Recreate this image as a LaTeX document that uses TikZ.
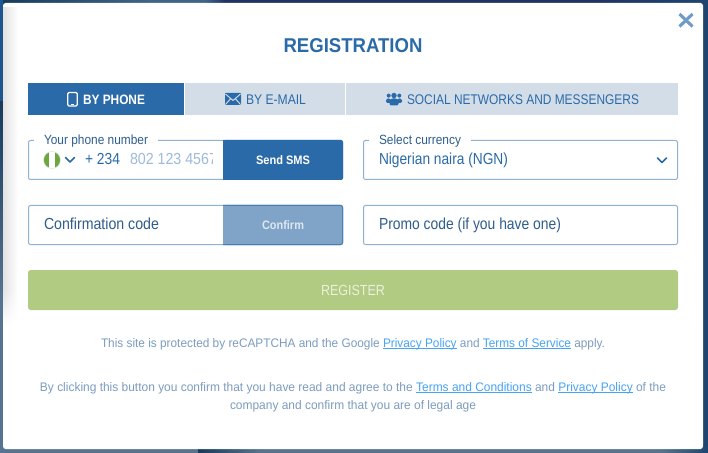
\documentclass[tikz,border=0pt]{standalone}
\usepackage{fontspec}
\usepackage{graphicx}
\setmainfont{Liberation Sans}
\usetikzlibrary{fadings}
\definecolor{bluemain}{HTML}{2A6AA8}
\definecolor{tabgrey}{HTML}{D3DDE8}
\definecolor{fieldline}{HTML}{8FB2D3}
\definecolor{inktext}{HTML}{2F5D8C}
\definecolor{placeholder}{HTML}{9DBBD9}
\definecolor{confirmbg}{HTML}{7FA4C8}
\definecolor{confirmtx}{HTML}{DCE7F1}
\definecolor{greenbtn}{HTML}{B1CB83}
\definecolor{greentx}{HTML}{EAF1DC}
\definecolor{smalltx}{HTML}{7C9CBF}
\definecolor{linktx}{HTML}{46A3F5}
\definecolor{closex}{HTML}{6F9BC6}
\definecolor{bgnavy}{HTML}{1F3463}
\definecolor{bgdark}{HTML}{173A5C}
\definecolor{bgmid}{HTML}{3F6488}
\definecolor{bgslate}{HTML}{56748F}
\definecolor{bgright}{HTML}{1E4570}
\definecolor{bgblue}{HTML}{1D568F}
\definecolor{shadowgrey}{HTML}{E2E2E2}
\definecolor{flaggreen}{HTML}{6CA63F}
\newcommand{\fs}[1]{\fontsize{#1}{#1}\selectfont}
\newsavebox{\fitbox}
\newcommand{\fitw}[2]{\sbox{\fitbox}{#2}\pgfmathsetmacro{\fitr}{(#1*0.75)/\the\wd\fitbox}\scalebox{\fitr}[1]{\usebox{\fitbox}}}
\newsavebox{\lnkbox}
\newcommand{\lnk}[1]{\sbox{\lnkbox}{#1}\textcolor{linktx}{\rlap{\rule[-1.2pt]{\wd\lnkbox}{0.6pt}}#1}}
\tikzset{
  x=0.75pt,y=-0.75pt,
  lab/.style={inner sep=0pt,outer sep=0pt,anchor=base west},
  mid/.style={inner sep=0pt,outer sep=0pt,anchor=base},
  field/.style={draw=fieldline,line width=0.75pt,rounded corners=1.5pt,fill=white},
  chev/.style={line width=1.2pt,bluemain,line cap=round,line join=round},
}
\begin{document}
\begin{tikzpicture}
\useasboundingbox (0,0) rectangle (708,453);
% backdrop
\fill[bgnavy] (0,0) rectangle (708,453);
\fill[left color=bgdark,right color=bgmid] (0,0) rectangle (150,5);
\fill[bgmid] (150,0) rectangle (205,5);
\fill[left color=bgmid,right color=bgnavy] (205,0) rectangle (225,5);
\fill[left color=bgnavy,right color=bgright] (600,0) rectangle (708,5);
\fill[bgright] (700,0) rectangle (708,453);
\fill[bgblue] (0,0) rectangle (3,102);
\fill[top color=bgdark,bottom color=bgslate] (0,102) rectangle (3,300);
\fill[bgslate] (0,300) rectangle (3,453);
\fill[bgslate] (0,447) rectangle (198,453);
\fill[left color=bgdark,right color=bgslate] (198,447) rectangle (260,453);
\fill[bgslate] (260,447) rectangle (660,453);
\fill[left color=bgslate,right color=bgright] (660,447) rectangle (708,453);
% panel
\fill[white,rounded corners=2pt] (3,3) rectangle (703,449);
\fill[left color=shadowgrey,right color=white] (3,8) rectangle (18,290);
\foreach \yy in {0,...,34}{
  \pgfmathtruncatemacro{\pct}{100-100*\yy/35}
  \fill[left color=shadowgrey!\pct!white,right color=white] (3,290+\yy) rectangle (18,291+\yy);
}
\node[mid,text=bluemain,font=\bfseries\fs{15}] (title) at (353,52.5) {\fitw{139}{REGISTRATION}};
% close
\draw[closex,line width=2.3pt] (679.5,14) -- (692.5,26.5) (692.5,14) -- (679.5,26.5);
% tabs
\fill[bluemain] (28,83) rectangle (184,115);
\fill[tabgrey] (185,83) rectangle (345,115);
\fill[tabgrey] (346,83) rectangle (678,115);
\draw[white,line width=0.9pt,rounded corners=1pt] (67.7,92.5) rectangle (77.3,106);
\draw[white,line width=0.6pt] (71,104) -- (74,104);
\node[lab,text=white,font=\bfseries\fs{10.2}] (tabphone) at (83,104.5) {\fitw{62}{BY PHONE}};
\fill[bluemain,rounded corners=0.5pt] (225,93) rectangle (241,105);
\draw[tabgrey,line width=0.7pt] (225.5,94) -- (233,100.5) -- (240.5,94) (225.5,104.5) -- (230.5,98.8) (240.5,104.5) -- (235.5,98.8);
\node[lab,text=bluemain,font=\fs{10.5}] (tabmail) at (246,104.5) {\fitw{60}{BY E-MAIL}};
\fill[bluemain] (388.7,95.6) circle (2) (399.3,95.6) circle (2) (394,95.5) circle (2.7);
\fill[bluemain,rounded corners=1pt] (386,103) -- (386,99) -- (390,98.2) -- (391,103) -- cycle (402,103) -- (402,99) -- (398,98.2) -- (397,103) -- cycle;
\fill[bluemain,rounded corners=1pt] (389.5,105.5) -- (389.5,100) -- (391.5,98.5) -- (396.5,98.5) -- (398.5,100) -- (398.5,105.5) -- cycle;
\node[lab,text=bluemain,font=\fs{10.5}] (tabsocial) at (407,104.5) {\fitw{232}{SOCIAL NETWORKS AND MESSENGERS}};
% phone field
\draw[field] (28.5,140.5) rectangle (342.5,179.5);
\fill[white] (34,138) rectangle (158,143);
\fill[bluemain,rounded corners=1.5pt] (223,140) rectangle (343,180);
\fill[bluemain] (223,140) rectangle (230,180);
\node[lab,text=inktext,font=\fs{10}] (phonelabel) at (44,144.5) {\fitw{104}{Your phone number}};
\fill[black!12] (52,160) circle (8.8);
\fill[white] (52,160) circle (8.1);
\begin{scope}
\clip (52,160) circle (8.1);
\fill[flaggreen] (43,150) rectangle (49.2,170);
\fill[flaggreen] (54.8,150) rectangle (61,170);
\end{scope}
\draw[chev] (65.5,157.5) -- (70,162) -- (74.5,157.5);
\node[lab,text=bluemain,font=\fs{12}] (dial) at (85,165) {\fitw{35}{+ 234}};
\begin{scope}
\clip (125,150) rectangle (212,172);
\node[lab,text=placeholder,font=\fs{12}] (phonehint) at (130,165) {\fitw{87}{802 123 4567}};
\end{scope}
\node[mid,text=white,font=\bfseries\fs{9.2}] (sms) at (283,164.5) {\fitw{54}{Send SMS}};
% currency
\draw[field] (363.5,140.5) rectangle (677.5,179.5);
\fill[white] (369,138) rectangle (471,143);
\node[lab,text=inktext,font=\fs{10}] (curlabel) at (379,144.5) {\fitw{82}{Select currency}};
\node[lab,text=bluemain,font=\fs{12}] (curvalue) at (379,165) {\fitw{129}{Nigerian naira (NGN)}};
\draw[chev] (657.5,158) -- (662,162.5) -- (666.5,158);
% code row
\draw[field] (28.5,205.5) rectangle (342.5,244.5);
\fill[confirmbg,rounded corners=1.5pt] (223,205) rectangle (343,245);
\fill[confirmbg] (223,205) rectangle (230,245);
\draw[bluemain!65!confirmbg,line width=0.75pt,rounded corners=1.5pt] (223,205.5) -- (342.5,205.5) -- (342.5,244.5) -- (223,244.5);
\node[lab,text=inktext,font=\fs{12}] (codelabel) at (44,229) {\fitw{115}{Confirmation code}};
\node[mid,text=confirmtx,font=\bfseries\fs{9.2}] (confirm) at (283,229) {\fitw{42}{Confirm}};
\draw[field] (363.5,205.5) rectangle (677.5,244.5);
\node[lab,text=inktext,font=\fs{12}] (promo) at (379,229) {\fitw{182}{Promo code (if you have one)}};
% register
\fill[greenbtn,rounded corners=2pt] (28,270) rectangle (678,310);
\node[mid,text=greentx,font=\fs{11}] (register) at (353,295) {\fitw{64}{REGISTER}};
% small print
\node[lab,text=smalltx,font=\fs{9.3}] (note1) at (101,347.5) {\fitw{504}{This site is protected by reCAPTCHA and the Google \lnk{Privacy Policy} and \lnk{Terms of Service} apply.}};
\node[lab,text=smalltx,font=\fs{9.3}] (note2) at (40,391) {\fitw{626}{By clicking this button you confirm that you have read and agree to the \lnk{Terms and Conditions} and \lnk{Privacy Policy} of the}};
\node[lab,text=smalltx,font=\fs{9.3}] (note3) at (230,409) {\fitw{246}{company and confirm that you are of legal age}};
\end{tikzpicture}
\end{document}
